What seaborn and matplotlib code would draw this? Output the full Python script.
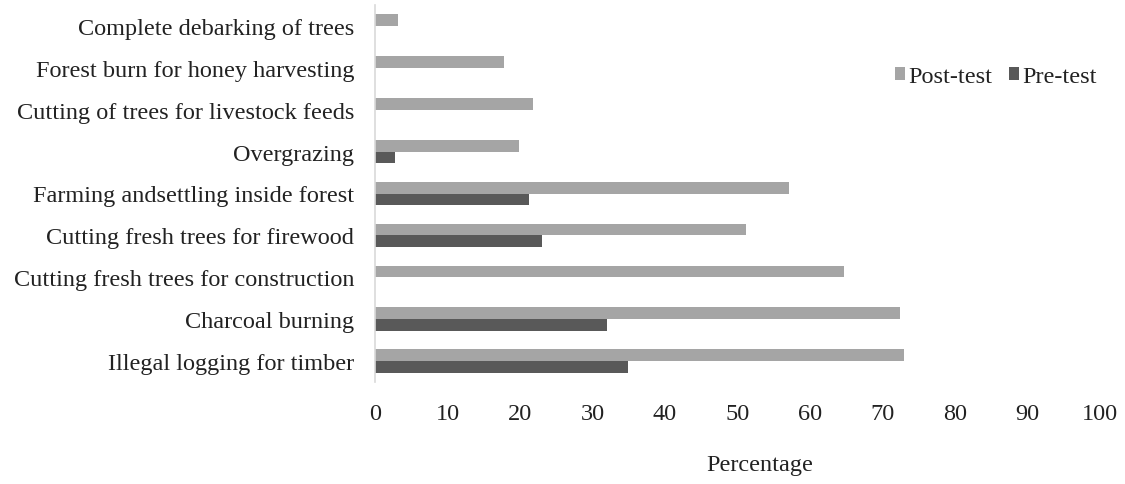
import matplotlib
matplotlib.use("Agg")
import matplotlib.pyplot as plt
import seaborn as sns
import pandas as pd

categories = [
    "Complete debarking of trees",
    "Forest burn for honey harvesting",
    "Cutting of trees for livestock feeds",
    "Overgrazing",
    "Farming andsettling inside forest",
    "Cutting fresh trees for firewood",
    "Cutting fresh trees for construction",
    "Charcoal burning",
    "Illegal logging for timber",
]
post_test = [3.2, 17.8, 21.8, 19.8, 57.1, 51.2, 64.7, 72.4, 72.9]
pre_test = [0, 0, 0, 2.8, 21.3, 23.1, 0, 32.0, 34.9]
series = ["Post-test", "Pre-test"]
colors = ["#a5a5a5", "#595959"]
x_ticks = [0, 10, 20, 30, 40, 50, 60, 70, 80, 90, 100]

df = pd.DataFrame({
    "Practice": categories * 2,
    "Percentage": post_test + pre_test,
    "Test": [series[0]] * len(categories) + [series[1]] * len(categories),
})

sns.set_theme(style="white")
plt.rcParams["font.family"] = ["Liberation Serif", "DejaVu Serif"]
FS = 17.5
TXT = "#222222"

fig = plt.figure(figsize=(11.25, 4.85), dpi=100)
ax = fig.add_axes([375 / 1125, 1 - 383 / 485, 725 / 1125, 377 / 485])

sns.barplot(
    data=df, y="Practice", x="Percentage", hue="Test",
    order=categories, hue_order=series, palette=colors,
    orient="h", width=0.56, linewidth=0, ax=ax, errorbar=None,
)

ax.set_xlim(0, 100)
ax.set_xticks(x_ticks)
ax.set_xticklabels([str(t) for t in x_ticks], fontsize=FS, color=TXT)
ax.tick_params(axis="y", labelsize=FS, labelcolor=TXT, length=0, pad=15)
ax.tick_params(axis="x", length=0, pad=15)
ax.set_ylabel("")
ax.set_xlabel("Percentage", fontsize=FS, color=TXT)
ax.xaxis.set_label_coords(0.53, -0.19)

for side in ["top", "right", "bottom"]:
    ax.spines[side].set_visible(False)
ax.spines["left"].set_color("#d9d9d9")
ax.spines["left"].set_linewidth(1.2)

handles, labels = ax.get_legend_handles_labels()
ax.legend(
    handles, labels, loc="center left", bbox_to_anchor=(0.717, 0.81),
    ncol=2, frameon=False, fontsize=FS, handlelength=0.4, handleheight=0.4,
    handletextpad=0.15, columnspacing=0.7, borderpad=0, borderaxespad=0,
    labelcolor=TXT,
)

fig.savefig("out.png", dpi=100, facecolor="white")
